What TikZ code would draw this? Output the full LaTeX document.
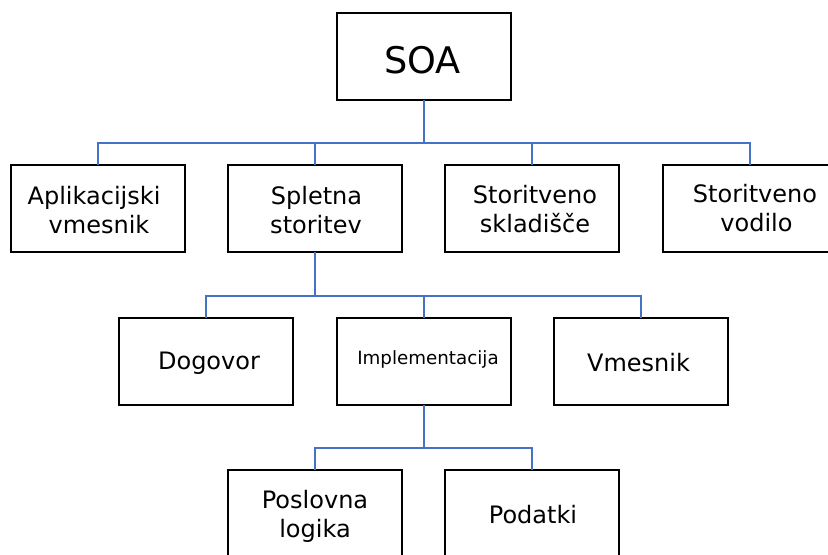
\documentclass[tikz,border=0pt]{standalone}
\usepackage{fontspec}
\setmainfont{DejaVu Sans}
\definecolor{linkblue}{RGB}{68,114,196}
\begin{document}
\begin{tikzpicture}[x=0.75pt,y=-0.75pt,
  box/.style={draw=black, line width=1.7pt, minimum width=130.5pt, minimum height=65.25pt, inner sep=0pt, outer sep=0pt},
  conn/.style={draw=linkblue, line width=1.7pt},
  lbl/.style={anchor=base, inner sep=0pt, font=\fontsize{18}{22}\selectfont},
]
\useasboundingbox (0,0) rectangle (828,554);
\clip (0,0) rectangle (828,554);
% boxes
\node[box] (soa) at (424,56.5) {};
\node[box] (apl) at (98,208.5) {};
\node[box] (spl) at (315,208.5) {};
\node[box] (skl) at (532,208.5) {};
\node[box] (vod) at (750,208.5) {};
\node[box] (dog) at (206,361.5) {};
\node[box] (imp) at (424,361.5) {};
\node[box] (vme) at (641,361.5) {};
\node[box] (pos) at (315,513.5) {};
\node[box] (pod) at (532,513.5) {};
% junctions
\coordinate (j1) at (424,143);
\coordinate (j2) at (315,296);
\coordinate (j3) at (424,448);
% connectors
\draw[conn] (soa.south) -- (j1);
\draw[conn] (j1) -| (apl.north);
\draw[conn] (j1) -| (spl.north);
\draw[conn] (j1) -| (skl.north);
\draw[conn] (j1) -| (vod.north);
\draw[conn] (spl.south) -- (j2);
\draw[conn] (j2) -| (dog.north);
\draw[conn] (j2) -| (imp.north);
\draw[conn] (j2) -| (vme.north);
\draw[conn] (imp.south) -- (j3);
\draw[conn] (j3) -| (pos.north);
\draw[conn] (j3) -| (pod.north);
% texts
\node[lbl, font=\fontsize{27.5}{33}\selectfont] (t-soa) at (422.5,73) {SOA};
\node[lbl] (t-apl1) at (94,204) {Aplikacijski};
\node[lbl] (t-apl2) at (99,233) {vmesnik};
\node[lbl] (t-spl1) at (316.5,204) {Spletna};
\node[lbl] (t-spl2) at (316,233) {storitev};
\node[lbl] (t-skl1) at (535,203) {Storitveno};
\node[lbl] (t-skl2) at (535,232) {skladišče};
\node[lbl] (t-vod1) at (755,202) {Storitveno};
\node[lbl] (t-vod2) at (756.5,231.5) {vodilo};
\node[lbl] (t-dog) at (209,369) {Dogovor};
\node[lbl, font=\fontsize{13.7}{16}\selectfont] (t-imp) at (428,364) {Implementacija};
\node[lbl] (t-vme) at (638.5,371.5) {Vmesnik};
\node[lbl] (t-pos1) at (315,508) {Poslovna};
\node[lbl] (t-pos2) at (315,537) {logika};
\node[lbl] (t-pod) at (533,523) {Podatki};
\end{tikzpicture}
\end{document}
